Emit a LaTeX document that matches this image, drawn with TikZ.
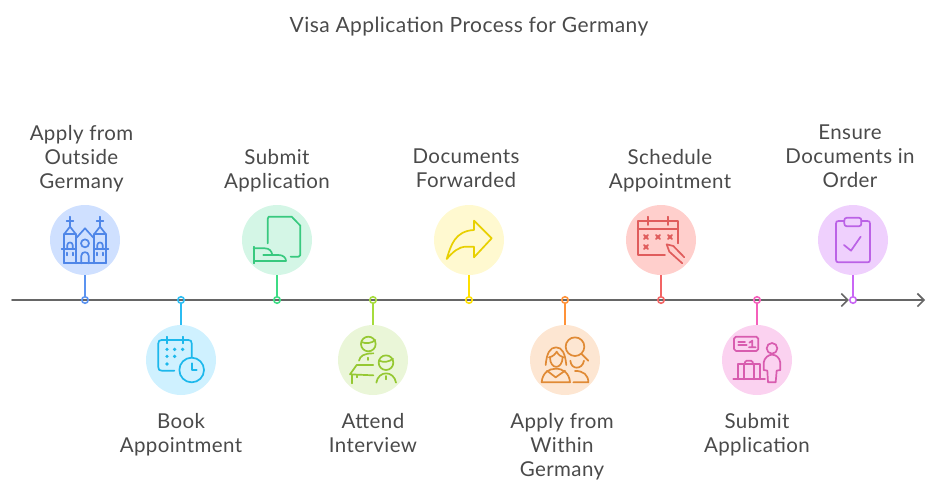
\documentclass[tikz,border=0pt]{standalone}
\usepackage{fontspec}
\setmainfont{Lato}[LetterSpace=2]
\usetikzlibrary{arrows.meta}
\definecolor{ink}{HTML}{4A4A4A}
\definecolor{axisc}{HTML}{666666}
\definecolor{bluef}{HTML}{CFE0FF}\definecolor{bluel}{HTML}{4F86E8}\definecolor{bluec}{HTML}{5B93F0}
\definecolor{cyanf}{HTML}{CFF1FF}\definecolor{cyanl}{HTML}{1CB8EC}\definecolor{cyanc}{HTML}{2BBCF2}
\definecolor{greenf}{HTML}{D4F6E6}\definecolor{greenl}{HTML}{38C97F}\definecolor{greenc}{HTML}{3DDC84}
\definecolor{limef}{HTML}{EAF6D8}\definecolor{limel}{HTML}{95C832}\definecolor{limec}{HTML}{A6DC3C}
\definecolor{yellowf}{HTML}{FFF9D0}\definecolor{yellowl}{HTML}{E8D000}\definecolor{yellowc}{HTML}{FFE000}
\definecolor{orangef}{HTML}{FDE6D2}\definecolor{orangel}{HTML}{E08A35}\definecolor{orangec}{HTML}{FF9238}
\definecolor{redf}{HTML}{FFCFCC}\definecolor{redl}{HTML}{E05C5C}\definecolor{redc}{HTML}{F26464}
\definecolor{pinkf}{HTML}{FBD2F0}\definecolor{pinkl}{HTML}{D85CAF}\definecolor{pinkc}{HTML}{F55FBB}
\definecolor{purplef}{HTML}{EFD0FD}\definecolor{purplel}{HTML}{BB62E6}\definecolor{purplec}{HTML}{C966F5}
\newcommand{\linestrut}{\rule[-7.2pt]{0pt}{24pt}}
\tikzset{
  disc/.style={circle,fill=#1,draw=none,minimum size=70pt,inner sep=0pt},
  tick/.style={circle,draw=#1,line width=1.6pt,minimum size=6.5pt,inner sep=0pt},
  stem/.style={draw=#1,line width=1.6pt},
  axisline/.style={draw=axisc,line width=1.6pt,line cap=round,-{Straight Barb[length=6.5pt,width=13pt,line width=1.6pt]}},
  lab/.style={text=ink,align=center,font=\fontsize{20.5}{24}\selectfont,inner sep=0pt,
    execute at begin node=\linestrut,execute at end node=\linestrut},
  ico/.style={draw=#1,line width=1.7pt,line cap=round,line join=round,fill=none},
  zoomed/.style={x=0.33333pt,y=-0.33333pt},
}
\begin{document}
\begin{tikzpicture}[x=1pt,y=-1pt]
\useasboundingbox (0,0) rectangle (937,493);
\node[lab,font=\fontsize{21}{24}\selectfont] (title) at (469,27.2) {Visa Application Process for Germany};
\coordinate (start) at (12,300);
\coordinate (finish) at (925,300);
% discs
\node[disc=bluef] (c1) at (85,240) {};
\node[disc=cyanf] (c2) at (181,360) {};
\node[disc=greenf] (c3) at (277,240) {};
\node[disc=limef] (c4) at (373,360) {};
\node[disc=yellowf] (c5) at (469,240) {};
\node[disc=orangef] (c6) at (565,360) {};
\node[disc=redf] (c7) at (661,240) {};
\node[disc=pinkf] (c8) at (757,360) {};
\node[disc=purplef] (c9) at (853,240) {};
% axis, in two parts either side of the last tick
\node[tick=purplec,fill=white] (d9) at (853,300) {};
\draw[axisline] (start) -- (d9.west);
\draw[axisline] (d9.east) -- (finish);
% ticks
\node[tick=bluec] (d1) at (85,300) {};
\node[tick=cyanc] (d2) at (181,300) {};
\node[tick=greenc] (d3) at (277,300) {};
\node[tick=limec] (d4) at (373,300) {};
\node[tick=yellowc] (d5) at (469,300) {};
\node[tick=orangec] (d6) at (565,300) {};
\node[tick=redc] (d7) at (661,300) {};
\node[tick=pinkc] (d8) at (757,300) {};
% stems
\draw[stem=bluec] (c1) -- (d1);
\draw[stem=cyanc] (c2) -- (d2);
\draw[stem=greenc] (c3) -- (d3);
\draw[stem=limec] (c4) -- (d4);
\draw[stem=yellowc] (c5) -- (d5);
\draw[stem=orangec] (c6) -- (d6);
\draw[stem=redc] (c7) -- (d7);
\draw[stem=pinkc] (c8) -- (d8);
\draw[stem=purplec] (c9) -- (d9);
% labels
\node[lab] (t1) at (81.5,160.2) {Apply from\\Outside\\Germany};
\node[lab] (t2) at (181,436.2) {Book\\Appointment};
\node[lab] (t3) at (277,172.2) {Submit\\Application};
\node[lab] (t4) at (373,436.2) {Attend\\Interview};
\node[lab] (t5) at (466,172.2) {Documents\\Forwarded};
\node[lab] (t6) at (562,448.2) {Apply from\\Within\\Germany};
\node[lab] (t7) at (670,172.2) {Schedule\\Appointment};
\node[lab] (t8) at (757,436.2) {Submit\\Application};
\node[lab] (t9) at (850,160.2) {Ensure\\Documents in\\Order};
% church
\begin{scope}[shift={(40,195)},zoomed]
\draw[ico=bluel] (72,205) -- (72,118) -- (90,95) -- (108,118) -- (108,205);
\draw[ico=bluel] (162,205) -- (162,118) -- (180,95) -- (198,118) -- (198,205);
\draw[ico=bluel] (72,118) -- (108,118) (162,118) -- (198,118);
\draw[ico=bluel] (72,205) -- (198,205);
\draw[ico=bluel] (90,65) -- (90,95) (80,78) -- (100,78) (180,65) -- (180,95) (170,78) -- (190,78);
\draw[ico=bluel] (108,130) -- (135,100) -- (162,130);
\draw[ico=bluel] (135,145) circle[radius=12];
\draw[ico=bluel] (124,205) -- (124,182) .. controls (124,168) and (146,168) .. (146,182) -- (146,205);
\draw[ico=bluel] (65,161) -- (108,161) (162,161) -- (205,161);
\draw[ico=bluel] (82,161) -- (82,150) .. controls (82,140) and (98,140) .. (98,150) -- (98,161);
\draw[ico=bluel] (172,161) -- (172,150) .. controls (172,140) and (188,140) .. (188,150) -- (188,161);
\draw[ico=bluel] (82,173) -- (82,181) (98,173) -- (98,181) (172,173) -- (172,181) (188,173) -- (188,181);
\end{scope}
% submit document
\begin{scope}[shift={(40,195)},zoomed]
\draw[ico=greenl] (683,145) -- (683,72) -- (686,65) -- (755,65) -- (781,92) -- (781,180) -- (776,185) -- (752,185);
\draw[ico=greenl] (641,155) -- (641,205);
\draw[ico=greenl] (641,160) -- (675,160) .. controls (688,160) and (695,168) .. (697,180);
\draw[ico=greenl] (670,180) -- (715,180) .. controls (730,180) and (738,188) .. (738,198) -- (641,198);
\end{scope}
% calendar + clock
\begin{scope}[shift={(140,320)},zoomed]
\draw[ico=cyanl] (103,152) -- (65,152) .. controls (58,152) and (55,149) .. (55,142) -- (55,70) .. controls (55,63) and (58,60) .. (65,60) -- (145,60) .. controls (152,60) and (155,63) .. (155,70) -- (155,112);
\draw[ico=cyanl] (82,50) -- (82,70) (128,50) -- (128,70);
\foreach \p in {(81,88),(104,88),(128,88),(81,109),(104,109),(81,132)}
  \fill[cyanl] \p circle[radius=5.5];
\draw[ico=cyanl] (155,150) circle[radius=37];
\draw[ico=cyanl] (155,130) -- (155,150) -- (170,150);
\end{scope}
% interview
\begin{scope}[shift={(140,320)},zoomed]
\draw[ico=limel] (685,72) circle[radius=22];
\draw[ico=limel] (664,66) .. controls (678,72) and (695,70) .. (706,60);
\draw[ico=limel] (657,122) .. controls (660,108) and (672,100) .. (700,100);
\draw[ico=limel] (683,113) -- (683,120);
\draw[ico=limel] (738,128) circle[radius=22];
\draw[ico=limel] (717,122) .. controls (731,128) and (748,126) .. (759,116);
\draw[ico=limel] (709,188) .. controls (712,170) and (725,160) .. (738,160) .. controls (752,160) and (765,170) .. (768,188);
\draw[ico=limel] (738,168) -- (738,178);
\draw[ico=limel] (700,135) -- (650,135) -- (630,163) -- (700,166);
\draw[ico=limel] (635,165) -- (635,190) (650,167) -- (650,172);
\end{scope}
% arrow
\begin{scope}[shift={(325,195)},zoomed]
\draw[ico=yellowl] (365,192) .. controls (378,150) and (390,108) .. (447,105) -- (447,77) -- (500,130) -- (447,187) -- (447,155) -- (425,155) .. controls (400,155) and (385,170) .. (365,192) -- cycle;
\end{scope}
% people
\begin{scope}[shift={(525,320)},zoomed]
\draw[ico=orangel] (150,80) circle[radius=28];
\draw[ico=orangel] (170,102) -- (190,122);
\draw[ico=orangel] (62,135) .. controls (65,100) and (75,82) .. (93,82) .. controls (112,82) and (120,100) .. (124,135);
\draw[ico=orangel] (72,112) .. controls (85,110) and (92,100) .. (95,95) .. controls (100,105) and (108,110) .. (115,112);
\draw[ico=orangel] (75,112) .. controls (75,150) and (112,150) .. (113,112);
\draw[ico=orangel] (50,187) .. controls (52,160) and (70,146) .. (92,146) .. controls (115,146) and (133,160) .. (135,187) -- cycle;
\draw[ico=orangel] (66,152) -- (92,172) -- (120,152);
\draw[ico=orangel] (136,122) .. controls (138,150) and (172,150) .. (177,122);
\draw[ico=orangel] (150,153) .. controls (175,152) and (190,165) .. (190,187) -- (145,187);
\end{scope}
% calendar x
\begin{scope}[shift={(620,195)},zoomed]
\draw[ico=redl] (135,180) -- (53,180) -- (53,78) -- (175,78) -- (175,145);
\draw[ico=redl] (53,103) -- (175,103);
\draw[ico=redl] (84,65) -- (84,90) (145,65) -- (145,90);
\foreach \q/\r in {78/126,114/126,150/126,78/156}
  \draw[ico=redl,line width=2.1pt] (\q-6,\r-6) -- (\q+6,\r+6) (\q-6,\r+6) -- (\q+6,\r-6);
\draw[ico=redl] (193,187) -- (160,153) -- (140,148) -- (148,170) -- (187,205);
\end{scope}
% traveller
\begin{scope}[shift={(525,320)},zoomed]
\draw[ico=pinkl] (633,50) -- (694,50) -- (700,56) -- (700,87) -- (694,93) -- (633,93) -- (627,87) -- (627,56) -- cycle;
\draw[ico=pinkl] (640,65) -- (660,65) (640,76) -- (665,76);
\draw[ico=pinkl] (673,68) -- (682,62) -- (682,82) (672,82) -- (692,82);
\draw[ico=pinkl] (741,85) circle[radius=16];
\draw[ico=pinkl] (729,187) -- (727,152) -- (716,150) -- (716,128) .. controls (718,112) and (732,104) .. (741,104) .. controls (752,104) and (764,112) .. (766,128) -- (766,150) -- (755,152) -- (752,187) -- cycle;
\draw[ico=pinkl] (640,178) -- (640,133) -- (705,133) -- (705,178);
\draw[ico=pinkl] (657,133) -- (657,178) (688,133) -- (688,178);
\draw[ico=pinkl] (660,133) -- (660,126) -- (665,122) -- (678,122) -- (683,126) -- (683,133);
\draw[ico=pinkl] (625,178) -- (720,178);
\end{scope}
% clipboard
\begin{scope}[shift={(620,195)},zoomed]
\draw[ico=purplel] (673,78) -- (656,78) .. controls (650,78) and (648,80) .. (648,86) -- (648,194) .. controls (648,200) and (650,202) .. (656,202) -- (742,202) .. controls (748,202) and (750,200) .. (750,194) -- (750,86) .. controls (750,80) and (748,78) .. (742,78) -- (724,78);
\draw[ico=purplel] (681,68) -- (716,68) .. controls (722,68) and (724,72) .. (724,76) -- (724,86) .. controls (724,90) and (722,94) .. (716,94) -- (681,94) .. controls (675,94) and (673,90) .. (673,86) -- (673,76) .. controls (673,72) and (675,68) .. (681,68) -- cycle;
\draw[ico=purplel] (672,150) -- (693,167) -- (722,125);
\end{scope}
\end{tikzpicture}
\end{document}
